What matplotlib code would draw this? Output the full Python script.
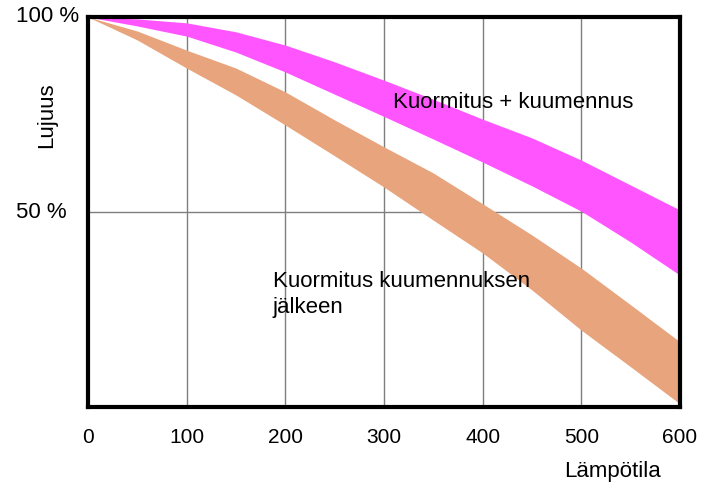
import matplotlib
matplotlib.use("Agg")
import matplotlib.pyplot as plt
import matplotlib.transforms as mtransforms

# lämpötila (x) ja lujuus-% kaistojen reunat
temps = [0, 50, 100, 150, 200, 250, 300, 350, 400, 450, 500, 550, 600]
heat_upper = [100, 99.5, 98.5, 96.2, 92.8, 88.5, 83.8, 78.9, 73.8, 69.0, 63.3, 56.9, 50.5]
heat_lower = [100, 97.7, 95.1, 91.0, 85.9, 80.2, 74.5, 68.7, 62.8, 56.7, 50.2, 42.3, 33.8]
after_upper = [100, 96.4, 91.5, 86.9, 80.8, 73.6, 66.7, 60.0, 52.1, 44.1, 35.6, 26.2, 16.7]
after_lower = [100, 94.1, 86.9, 80.0, 72.3, 64.4, 56.4, 47.9, 39.5, 30.0, 19.7, 10.3, 0.8]

xticks = [0, 100, 200, 300, 400, 500, 600]
yticks = [50, 100]
ytick_labels = ["50 %", "100 %"]

plt.rcParams['font.family'] = ['Liberation Sans', 'DejaVu Sans']

fig = plt.figure(figsize=(7.1, 4.95), dpi=100)
ax = fig.add_axes([88 / 710, 88 / 495, 592 / 710, 390 / 495])

# ruudukko
for x in xticks[1:-1]:
    ax.axvline(x, color='#7f7f7f', linewidth=1, zorder=1)
ax.axhline(50, color='#7f7f7f', linewidth=1, zorder=1)

ax.fill_between(temps, heat_lower, heat_upper, color='#ff55ff', linewidth=0, zorder=2)
ax.fill_between(temps, after_lower, after_upper, color='#e8a47c', linewidth=0, zorder=2)

ax.set_xlim(0, 600)
ax.set_ylim(0, 100)
ax.set_xticks(xticks)
ax.tick_params(axis='x', length=0, pad=15, labelsize=15)
ax.set_yticks([])
for s in ax.spines.values():
    s.set_linewidth(3)
    s.set_color('black')
    s.set_zorder(4)

# y-akselin tekstit vasemmalle tasattuina
tr = mtransforms.blended_transform_factory(fig.transFigure, ax.transData)
for v, lab in zip(yticks, ytick_labels):
    ax.text(16 / 710, v, lab, transform=tr, ha='left', va='center', fontsize=16, clip_on=False)

fig.text(47 / 710, 1 - 115 / 495, "Lujuus", rotation=90, ha='center', va='center', fontsize=16)
fig.text(613 / 710, 1 - 471 / 495, "Lämpötila", ha='center', va='center', fontsize=16)

ax.text(309, 76.7, "Kuormitus + kuumennus", fontsize=16, ha='left', va='baseline', zorder=3)
ax.text(187.5, 30.8, "Kuormitus kuumennuksen", fontsize=16, ha='left', va='baseline', zorder=3)
ax.text(187.5, 24.1, "jälkeen", fontsize=16, ha='left', va='baseline', zorder=3)

fig.savefig("out.png", dpi=100)
